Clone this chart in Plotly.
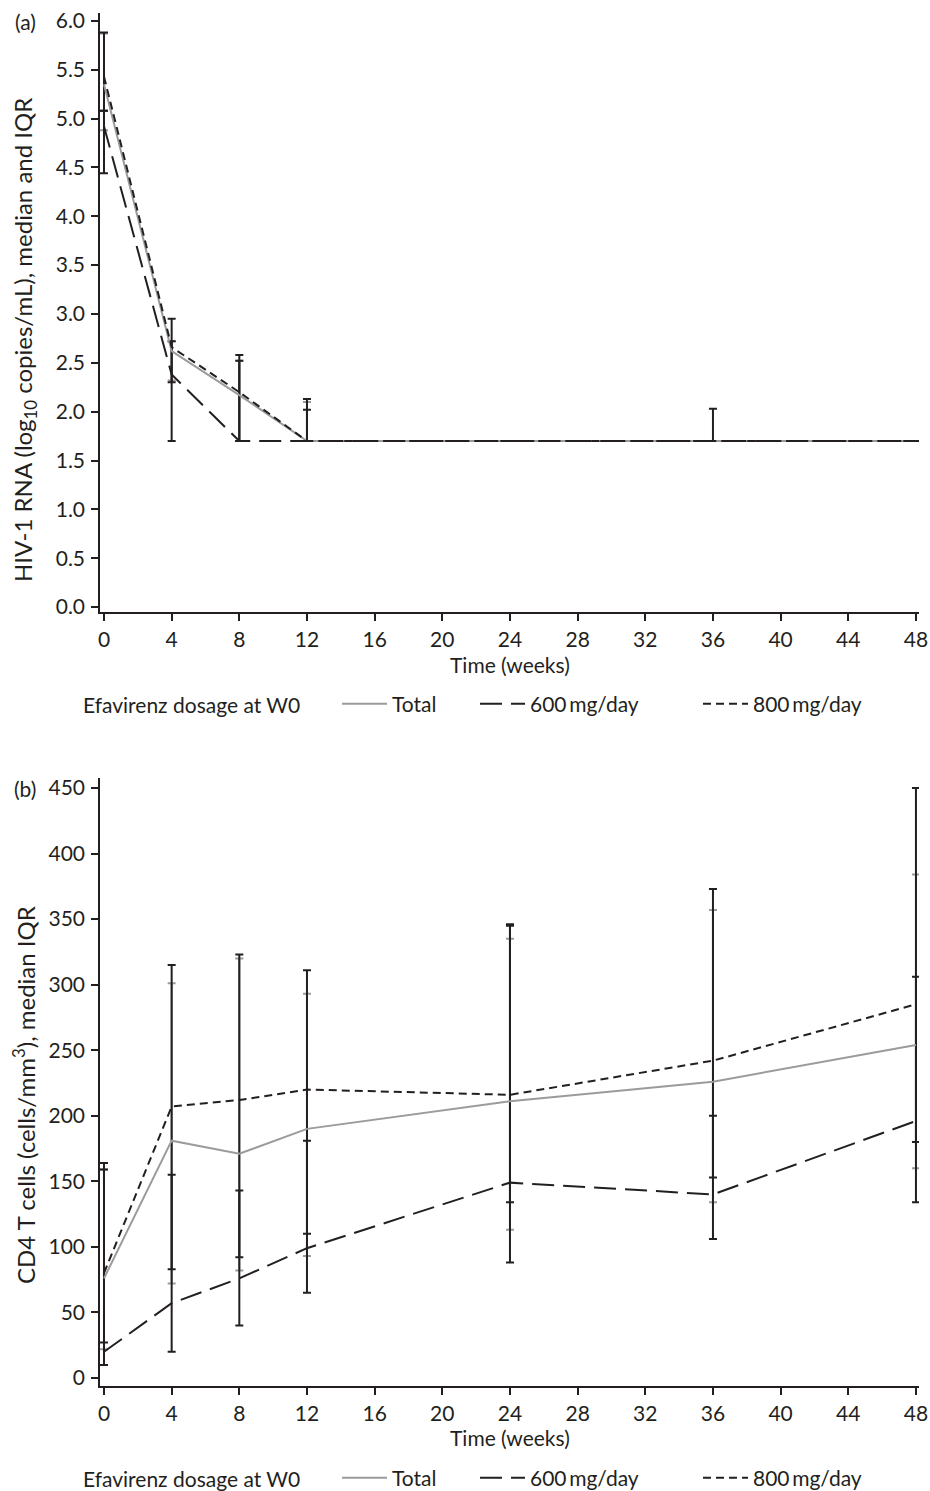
import plotly.graph_objects as go

# ---------------- data ----------------
weeks = [0, 4, 8, 12, 24, 36, 48]
x_ticks = list(range(0, 49, 4))

# Panel (a): HIV-1 RNA log10 copies/mL, median and IQR
rna_total = [5.35, 2.62, 2.17, 1.70, 1.70, 1.70, 1.70]
rna_total_q1 = [4.88, 2.32, 1.70, 1.70, None, None, None]
rna_total_q3 = [5.87, 2.72, 2.52, 2.10, None, None, None]

rna_600 = [4.92, 2.38, 1.70, 1.70, 1.70, 1.70, 1.70]
rna_600_q1 = [4.44, 1.70, 1.70, 1.70, None, None, None]
rna_600_q3 = [5.08, 2.72, 2.52, 2.02, None, None, None]

rna_800 = [5.43, 2.66, 2.20, 1.70, 1.70, 1.70, 1.70]
rna_800_q1 = [5.08, 2.30, 1.70, 1.70, None, 1.70, None]
rna_800_q3 = [5.88, 2.95, 2.58, 2.13, None, 2.03, None]

# Panel (b): CD4 T cells/mm3, median and IQR
cd4_total = [76, 181, 171, 190, 211, 226, 254]
cd4_total_q1 = [22, 72, 82, 93, 113, 134, 160]
cd4_total_q3 = [159, 301, 320, 293, 335, 357, 384]

cd4_600 = [20, 57, 76, 99, 149, 140, 196]
cd4_600_q1 = [10, 20, 40, 65, 88, 106, 134]
cd4_600_q3 = [159, 155, 143, 181, 345, 200, 306]

cd4_800 = [80, 207, 212, 220, 216, 242, 285]
cd4_800_q1 = [27, 83, 92, 110, 134, 153, 180]
cd4_800_q3 = [164, 315, 323, 311, 346, 373, 450]

series_names = ["Total", "600\u2009mg/day", "800\u2009mg/day"]
legend_title = "Efavirenz dosage at W0"
title_a = "HIV-1 RNA (log<sub>10</sub> copies/mL), median and IQR"
title_b = "CD4 T cells (cells/mm<sup>3</sup>), median IQR"
x_title = "Time (weeks)"

BLACK = "#231f20"
GREY = "#9b9b9b"
FONT = "Lato"
FS = 21
FS_YT = 24

styles = [
    dict(color=GREY, width=2, dash="solid"),
    dict(color=BLACK, width=2, dash="22px,9px"),
    dict(color=BLACK, width=2, dash="8px,5px"),
]
bar_colors = [GREY, BLACK, BLACK]


def err(med, q1, q3):
    plus, minus = [], []
    for m, lo, hi in zip(med, q1, q3):
        if lo is None or hi is None:
            plus.append(None)
            minus.append(None)
        else:
            plus.append(hi - m)
            minus.append(m - lo)
    return plus, minus


# ---------------- geometry ----------------
W, H = 930, 1491
mt, mb, ml, mr = 13, 105, 100, 11
pw = W - ml - mr
ph = H - mt - mb


def fy(py):
    return 1 - (py - mt) / ph


def fx(px):
    return (px - ml) / pw


fig = go.Figure()

panels = [
    ("x", "y", ["legend", "legend2", "legend3"],
     [(rna_total, rna_total_q1, rna_total_q3),
      (rna_600, rna_600_q1, rna_600_q3),
      (rna_800, rna_800_q1, rna_800_q3)]),
    ("x2", "y2", ["legend4", "legend5", "legend6"],
     [(cd4_total, cd4_total_q1, cd4_total_q3),
      (cd4_600, cd4_600_q1, cd4_600_q3),
      (cd4_800, cd4_800_q1, cd4_800_q3)]),
]

for xa, ya, lgs, data in panels:
    for i, (med, q1, q3) in enumerate(data):
        plus, minus = err(med, q1, q3)
        fig.add_trace(go.Scatter(
            x=weeks, y=med, mode="markers",
            marker=dict(size=1, color="rgba(0,0,0,0)"),
            error_y=dict(type="data", symmetric=False, array=plus, arrayminus=minus,
                         color=bar_colors[i], thickness=2, width=4),
            xaxis=xa, yaxis=ya, showlegend=False, hoverinfo="skip",
        ))
    for i, (med, q1, q3) in enumerate(data):
        fig.add_trace(go.Scatter(
            x=weeks, y=med, mode="lines", name=series_names[i],
            line=styles[i], xaxis=xa, yaxis=ya, legend=lgs[i],
        ))

axis_common = dict(
    showline=True, linecolor=BLACK, linewidth=1.5,
    ticks="outside", ticklen=7, tickwidth=1.5, tickcolor=BLACK,
    showgrid=False, zeroline=False, automargin=False,
    tickfont=dict(family=FONT, size=FS, color=BLACK),
)
xcommon = dict(axis_common, range=[-0.236, 48.18], tickvals=x_ticks,
               ticklabeloverflow="allow", ticklabelstandoff=1)
ycommon = dict(axis_common, ticklabelstandoff=2)

# legend item positions (left px of legend box) for Total / 600 / 800
leg_x = [337, 475, 698]
leg_y_px = [704, 1478]


def leg(px, py):
    return dict(orientation="h", x=fx(px), xanchor="left", y=fy(py), yanchor="middle",
                itemwidth=45, font=dict(family=FONT, size=FS, color=BLACK),
                bgcolor="rgba(0,0,0,0)", borderwidth=0)


annotations = []
for text, yc in [(title_a, 340), (title_b, 1095)]:
    annotations.append(dict(text=text, x=fx(24), xref="paper", y=fy(yc), yref="paper",
                            textangle=-90, xanchor="center", yanchor="middle", showarrow=False,
                            font=dict(family=FONT, size=FS_YT, color=BLACK)))
for yc in [664, 1437]:
    annotations.append(dict(text=x_title, x=fx(510), xref="paper", y=fy(yc), yref="paper",
                            xanchor="center", yanchor="middle", showarrow=False,
                            font=dict(family=FONT, size=FS, color=BLACK)))
for yc in leg_y_px:
    annotations.append(dict(text=legend_title, x=fx(81), xref="paper", y=fy(yc), yref="paper",
                            xanchor="left", yanchor="middle", showarrow=False,
                            font=dict(family=FONT, size=FS, color=BLACK)))
for lab, yc in [("(a)", 22), ("(b)", 789)]:
    annotations.append(dict(text=lab, x=fx(25), xref="paper", y=fy(yc), yref="paper",
                            xanchor="center", yanchor="middle", showarrow=False,
                            font=dict(family=FONT, size=FS, color=BLACK)))

fig.update_layout(
    width=W, height=H,
    margin=dict(l=ml, r=mr, t=mt, b=mb, autoexpand=False),
    plot_bgcolor="white", paper_bgcolor="white",
    font=dict(family=FONT, size=FS, color=BLACK),
    xaxis=dict(xcommon, domain=[0, 1], anchor="y"),
    yaxis=dict(ycommon, domain=[fy(612), 1], anchor="x", range=[-0.05, 6.08], dtick=0.5,
               tickformat=".1f"),
    xaxis2=dict(xcommon, domain=[0, 1], anchor="y2"),
    yaxis2=dict(ycommon, domain=[0, fy(778)], anchor="x2", range=[-6.1, 457.6], dtick=50),
    legend=leg(leg_x[0], leg_y_px[0]),
    legend2=leg(leg_x[1], leg_y_px[0]),
    legend3=leg(leg_x[2], leg_y_px[0]),
    legend4=leg(leg_x[0], leg_y_px[1]),
    legend5=leg(leg_x[1], leg_y_px[1]),
    legend6=leg(leg_x[2], leg_y_px[1]),
    annotations=annotations,
)

fig.write_html(
    "out.html",
    config={"displayModeBar": False},
    post_script="document.body.style.margin='0px';document.body.style.overflow='hidden';",
)
